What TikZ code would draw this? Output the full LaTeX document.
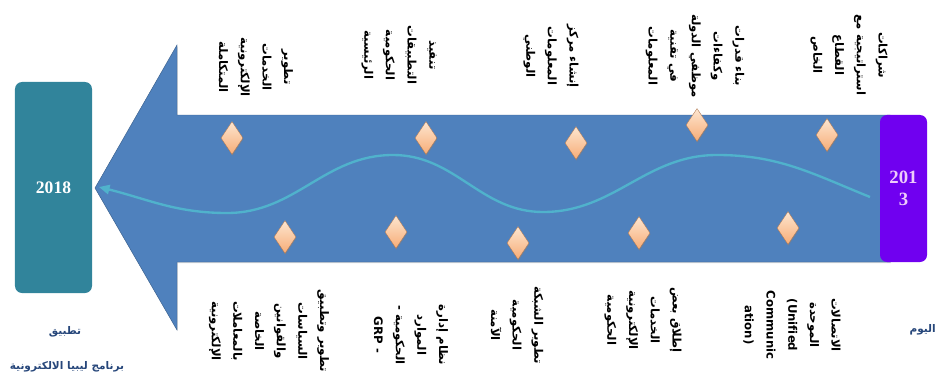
\documentclass[tikz,border=0pt]{standalone}
\usepackage{fontspec}
\newfontfamily\arabicfont[Script=Arabic]{DejaVu Sans}
\newfontfamily\yearfont{Liberation Serif}
\TeXXeTstate=1
\usetikzlibrary{shapes.geometric,arrows.meta,shadows}
\definecolor{arrowblue}{RGB}{79,129,189}
\definecolor{tealbox}{RGB}{49,132,155}
\definecolor{purplebox}{RGB}{112,0,240}
\definecolor{yearpink}{RGB}{238,204,250}
\definecolor{wavecyan}{RGB}{80,178,204}
\definecolor{gemtop}{RGB}{253,230,208}
\definecolor{gembottom}{RGB}{247,172,118}
\definecolor{labelblue}{RGB}{38,70,122}
\newcommand\arline[1]{\beginR #1\endR}

\begin{document}
\begin{tikzpicture}[x=0.03cm, y=0.03cm,
    gem/.style={diamond, draw=gembottom!70!black, line width=0.3pt, top color=gemtop, bottom color=gembottom,
      minimum width=0.66cm, minimum height=0.99cm, inner sep=0pt,
      drop shadow={shadow xshift=0.6pt, shadow yshift=-1.2pt, opacity=0.35}},
    milestone/.style={font=\arabicfont\bfseries\fontsize{10}{18.5}\selectfont, align=center, rotate=-90, inner sep=0pt},
    yearbox/.style={rounded corners=6pt, text centered, inner sep=0pt},
    wave/.style={draw=wavecyan, line width=2pt, -{Triangle[length=9pt,width=8pt]}},
    caption/.style={font=\arabicfont\bfseries\fontsize{9}{11}\selectfont, text=labelblue, inner sep=0pt}]
  \useasboundingbox (0,0) rectangle (937,383);
  % big arrow
  \fill[arrowblue, draw=arrowblue!75!black, line width=0.4pt,
    drop shadow={shadow xshift=0.8pt, shadow yshift=-1pt, opacity=0.3}]
    (95,195) -- (177,338) -- (177,268) -- (890,268) -- (890,121) -- (177,121) -- (177,53) -- cycle;
  % year boxes
  \node[yearbox, fill=tealbox, minimum width=2.31cm, minimum height=6.33cm,
    font=\yearfont\bfseries\fontsize{15}{17}\selectfont, text=white] (start) at (53.5,195.5) {2018};
  \node[yearbox, fill=purplebox, align=center, minimum width=1.41cm, minimum height=4.41cm,
    font=\yearfont\bfseries\fontsize{16}{19}\selectfont, text=yearpink] (today) at (903.5,194.5) {201\\3};
  % wave
  \coordinate (w0) at (870,186);
  \coordinate (w1) at (717,228);
  \coordinate (w2) at (543,171);
  \coordinate (w3) at (393,228);
  \coordinate (w4) at (227,170);
  \coordinate (w5) at (99,196);
  \draw[wave] (w0) to[out=158,in=0] (w1) to[out=180,in=0] (w2) to[out=180,in=0] (w3)
    to[out=180,in=0] (w4) to[out=180,in=-14] (w5);
  % diamonds above
  \node[gem] (g1) at (232,245) {};
  \node[gem] (g2) at (426,245) {};
  \node[gem] (g3) at (576,240) {};
  \node[gem] (g4) at (697,258) {};
  \node[gem] (g5) at (827,248) {};
  % diamonds below
  \node[gem] (h1) at (285,146) {};
  \node[gem] (h2) at (396,151) {};
  \node[gem] (h3) at (518,140) {};
  \node[gem] (h4) at (639,150) {};
  \node[gem] (h5) at (788,155) {};
  % labels above
  \node[milestone] (t1) at (256,316) {\arline{تطوير}\\\arline{الخدمات}\\\arline{الإلكترونية}\\\arline{المتكاملة}};
  \node[milestone] (t2) at (399,328) {\arline{تنفيذ}\\\arline{التطبيقات}\\\arline{الحكومية}\\\arline{الرئيسية}};
  \node[milestone] (t3) at (551,327) {\arline{إنشاء مركز}\\\arline{المعلومات}\\\arline{الوطني}};
  \node[milestone] (t4) at (695,327) {\arline{بناء قدرات}\\\arline{وكفاءات}\\\arline{موظفي الدولة}\\\arline{في تقنية}\\\arline{المعلومات}};
  \node[milestone] (t5) at (849,328) {\arline{شراكات}\\\arline{استراتيجية مع}\\\arline{القطاع}\\\arline{الخاص}};
  % labels below
  \node[milestone] (b1) at (269,52) {\arline{تطوير وتطبيق}\\\arline{السياسات}\\\arline{والقوانين}\\\arline{الخاصة}\\\arline{بالمعاملات}\\\arline{الإلكترونية}};
  \node[milestone] (b2) at (411,48) {\arline{نظام إدارة}\\\arline{الموارد}\\\arline{الحكومية -}\\GRP -};
  \node[milestone] (b3) at (517,58) {\arline{تطوير الشبكة}\\\arline{الحكومية}\\\arline{الآمنة}};
  \node[milestone] (b4) at (643,63) {\arline{إطلاق بعض}\\\arline{الخدمات}\\\arline{الإلكترونية}\\\arline{الحكومية}};
  \node[milestone] (b5) at (792,58) {\arline{الاتصالات}\\\arline{الموحدة}\\(Unified\\Communic\\ation)};
  % captions
  \node[caption] (apply) at (65,51) {\arline{تطبيق}};
  \node[caption] (program) at (67,16) {\arline{برنامج ليبيا الالكترونية}};
  \node[caption, anchor=east] (now) at (936,53) {\arline{اليوم}};
\end{tikzpicture}
\end{document}
